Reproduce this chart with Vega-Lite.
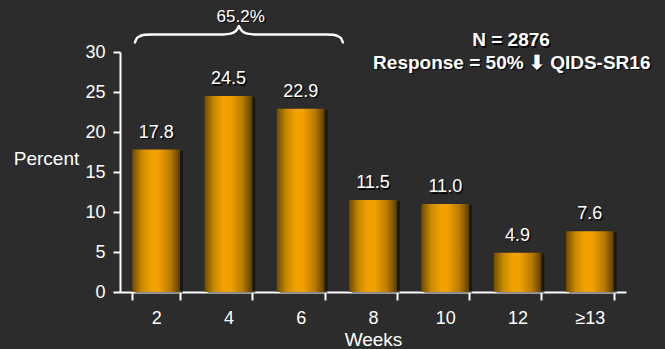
{
  "$schema": "https://vega.github.io/schema/vega-lite/v6.json",
  "autosize": {"type": "none"},
  "padding": {"left": 120, "top": 52, "right": 39, "bottom": 57},
  "width": 506,
  "height": 240,
  "background": "#2c2c2c",
  "config": {
    "view": {"stroke": null},
    "font": "Liberation Sans",
    "axis": {"labelFont": "Liberation Sans", "titleFont": "Liberation Sans"}
  },
  "datasets": {
    "bars": [
      {"week": "2", "pct": 17.8},
      {"week": "4", "pct": 24.5},
      {"week": "6", "pct": 22.9},
      {"week": "8", "pct": 11.5},
      {"week": "10", "pct": 11.0},
      {"week": "12", "pct": 4.9},
      {"week": "≥13", "pct": 7.6}
    ],
    "brace": [
      {"part": "L", "o": 1, "x": 0.207, "y": 31.2},
      {"part": "L", "o": 2, "x": 0.235, "y": 31.75},
      {"part": "L", "o": 3, "x": 0.28, "y": 32.0},
      {"part": "L", "o": 4, "x": 0.35, "y": 32.15},
      {"part": "L", "o": 5, "x": 0.43, "y": 32.2},
      {"part": "L", "o": 6, "x": 1.43, "y": 32.2},
      {"part": "L", "o": 7, "x": 1.53, "y": 32.3},
      {"part": "L", "o": 8, "x": 1.60, "y": 32.6},
      {"part": "L", "o": 9, "x": 1.645, "y": 33.2},
      {"part": "R", "o": 1, "x": 1.645, "y": 33.2},
      {"part": "R", "o": 2, "x": 1.69, "y": 32.6},
      {"part": "R", "o": 3, "x": 1.76, "y": 32.3},
      {"part": "R", "o": 4, "x": 1.86, "y": 32.2},
      {"part": "R", "o": 5, "x": 2.86, "y": 32.2},
      {"part": "R", "o": 6, "x": 2.94, "y": 32.15},
      {"part": "R", "o": 7, "x": 3.01, "y": 32.0},
      {"part": "R", "o": 8, "x": 3.055, "y": 31.75},
      {"part": "R", "o": 9, "x": 3.083, "y": 31.2}
    ],
    "notesPlain": [
      {"x": 1.67, "y": 33.8, "text": "65.2%"}
    ],
    "notesBold": [
      {"x": 5.41, "y": 30.73, "text": "N = 2876"},
      {"x": 5.42, "y": 27.9, "text": "Response = 50% ⬇ QIDS-SR16"}
    ]
  },
  "resolve": {"scale": {"x": "independent", "y": "independent"}},
  "layer": [
    {
      "data": {"name": "bars"},
      "encoding": {
        "x": {
          "field": "week",
          "type": "ordinal",
          "sort": ["2", "4", "6", "8", "10", "12", "≥13"],
          "scale": {"paddingInner": 0.34, "paddingOuter": 0.17},
          "axis": {
            "title": "Weeks",
            "titleColor": "white",
            "titleFontSize": 19,
            "titleFontWeight": "normal",
            "titleBaseline": "alphabetic",
            "titleY": 53,
            "labelAngle": 0,
            "labelColor": "white",
            "labelFontSize": 18,
            "labelPadding": 9,
            "tickBand": "extent",
            "tickSize": 8,
            "tickWidth": 2,
            "tickColor": "white",
            "domainColor": "white",
            "domainWidth": 2,
            "grid": false
          }
        },
        "y": {
          "field": "pct",
          "type": "quantitative",
          "scale": {"domain": [0, 30], "nice": false},
          "axis": {
            "title": "Percent",
            "titleAngle": 0,
            "titleX": -74,
            "titleY": 112,
            "titleAlign": "center",
            "titleBaseline": "alphabetic",
            "titleColor": "white",
            "titleFontSize": 19,
            "titleFontWeight": "normal",
            "values": [0, 5, 10, 15, 20, 25, 30],
            "labelColor": "white",
            "labelFontSize": 18,
            "labelPadding": 8,
            "tickSize": 7,
            "tickWidth": 2,
            "tickColor": "white",
            "domainColor": "white",
            "domainWidth": 2,
            "grid": false
          }
        }
      },
      "layer": [
        {
          "mark": {"type": "bar", "color": "black", "opacity": 0.45, "xOffset": 3, "yOffset": 1}
        },
        {
          "mark": {
            "type": "bar",
            "color": {
              "gradient": "linear",
              "x1": 0, "x2": 1, "y1": 0, "y2": 0,
              "stops": [
                {"offset": 0, "color": "#6e4c00"},
                {"offset": 0.2, "color": "#c98a00"},
                {"offset": 0.4, "color": "#f2a200"},
                {"offset": 0.55, "color": "#f0a000"},
                {"offset": 0.8, "color": "#b87a00"},
                {"offset": 1, "color": "#5a3d00"}
              ]
            }
          }
        },
        {
          "mark": {"type": "text", "color": "black", "opacity": 0.8, "fontSize": 18, "baseline": "alphabetic", "dy": -10.5, "dx": 1.5},
          "encoding": {"text": {"field": "pct", "type": "quantitative", "format": ".1f"}}
        },
        {
          "mark": {"type": "text", "color": "white", "fontSize": 18, "baseline": "alphabetic", "dy": -12},
          "encoding": {"text": {"field": "pct", "type": "quantitative", "format": ".1f"}}
        }
      ]
    },
    {
      "encoding": {
        "x": {"field": "x", "type": "quantitative", "scale": {"domain": [0, 7], "nice": false, "zero": false}, "axis": null},
        "y": {"field": "y", "type": "quantitative", "scale": {"domain": [0, 30], "nice": false}, "axis": null}
      },
      "layer": [
        {
          "data": {"name": "brace"},
          "mark": {"type": "line", "color": "white", "strokeWidth": 2.5, "interpolate": "monotone", "strokeCap": "round"},
          "encoding": {
            "detail": {"field": "part"},
            "order": {"field": "o"}
          }
        },
        {
          "data": {"name": "notesPlain"},
          "mark": {"type": "text", "color": "black", "opacity": 0.8, "align": "center", "baseline": "alphabetic", "dx": 1.5, "dy": 1.5, "fontSize": 17},
          "encoding": {"text": {"field": "text"}}
        },
        {
          "data": {"name": "notesPlain"},
          "mark": {"type": "text", "color": "white", "align": "center", "baseline": "alphabetic", "fontSize": 17},
          "encoding": {"text": {"field": "text"}}
        },
        {
          "data": {"name": "notesBold"},
          "mark": {"type": "text", "color": "black", "opacity": 0.8, "align": "center", "baseline": "alphabetic", "dx": 1.5, "dy": 1.5, "fontSize": 19, "fontWeight": "bold"},
          "encoding": {"text": {"field": "text"}}
        },
        {
          "data": {"name": "notesBold"},
          "mark": {"type": "text", "color": "white", "align": "center", "baseline": "alphabetic", "fontSize": 19, "fontWeight": "bold"},
          "encoding": {"text": {"field": "text"}}
        }
      ]
    }
  ]
}
